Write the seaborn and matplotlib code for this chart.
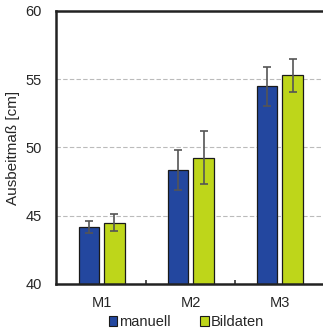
import matplotlib
matplotlib.use("Agg")
import matplotlib.pyplot as plt
import seaborn as sns
import pandas as pd
import numpy as np
from matplotlib.patches import Patch

# Mittelwerte und Standardabweichungen je Messung
kategorien = ["M1", "M2", "M3"]
manuell = [44.2, 48.35, 54.5]
manuell_sd = [0.45, 1.45, 1.43]
bildaten = [44.5, 49.25, 55.3]
bildaten_sd = [0.6, 1.95, 1.2]
reihen = ["manuell", "Bildaten"]
farben = ["#23479f", "#bed61a"]

df = pd.DataFrame({
    "Messung": kategorien * 2,
    "Wert": manuell + bildaten,
    "Fehler": manuell_sd + bildaten_sd,
    "Methode": [reihen[0]] * 3 + [reihen[1]] * 3,
})

sns.set_style("white")
plt.rcParams["font.family"] = ["Liberation Sans", "DejaVu Sans"]

fig = plt.figure(figsize=(3.23, 3.31), dpi=100)
ax = fig.add_axes([0.1734, 0.142, 0.8266, 0.8248])

sns.barplot(data=df, x="Messung", y="Wert", hue="Methode", hue_order=reihen,
            palette=farben, saturation=1, width=0.573, gap=0.2, errorbar=None,
            edgecolor="#1a1a1a", linewidth=0.9, legend=False, ax=ax)

# Fehlerbalken an den Balkenmitten
for i, methode in enumerate(reihen):
    sub = df[df["Methode"] == methode]
    patches = ax.patches[i * 3:(i + 1) * 3]
    xs = [p.get_x() + p.get_width() / 2 for p in patches]
    ax.errorbar(xs, sub["Wert"], yerr=sub["Fehler"], fmt="none",
                ecolor="#555555", elinewidth=1.2, capsize=3.2, capthick=1.2,
                zorder=5)

ax.set_ylim(40, 60)
ax.set_xlim(-0.511, 2.483)
ax.set_yticks([40, 45, 50, 55, 60])
ax.yaxis.grid(True, linestyle=(0, (4, 2)), color="#bbbbbb", linewidth=0.8)
ax.set_axisbelow(True)
ax.set_xlabel("")
ax.set_ylabel("Ausbeitmaß [cm]", fontsize=11, labelpad=4)

for side in ["left", "top", "bottom"]:
    ax.spines[side].set_visible(True)
    ax.spines[side].set_color("#222222")
    ax.spines[side].set_linewidth(1.8)
ax.spines["right"].set_visible(False)

ax.tick_params(axis="y", direction="in", length=2, width=1.2, color="#333333",
               labelsize=10.5, pad=10)
ax.tick_params(axis="x", length=0, labelsize=10.5, pad=9)
ax.set_xticks([0.5, 1.5], minor=True)
ax.tick_params(axis="x", which="minor", direction="in", length=3, width=1.2,
               color="#333333", bottom=True)

handles = [Patch(facecolor=c, edgecolor="#1a1a1a", linewidth=0.8) for c in farben]
fig.legend(handles, reihen, loc="center", bbox_to_anchor=(0.576, 0.027),
           ncol=2, frameon=False, fontsize=10.5, handlelength=0.6,
           handleheight=0.6, handletextpad=0.12, columnspacing=2.0,
           borderpad=0, borderaxespad=0)

fig.savefig("out.png", dpi=100)
